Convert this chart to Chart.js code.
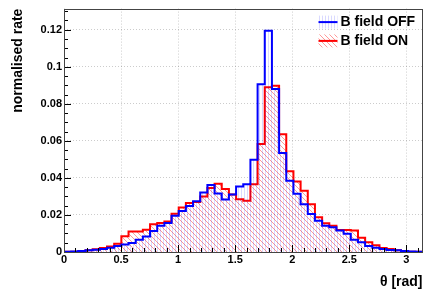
<!DOCTYPE html>
<html lang="en">
<head>
  <meta charset="UTF-8" />
  <title>theta distribution, B field on/off</title>
  <script src="https://cdn.jsdelivr.net/npm/chart.js"></script>
  <style>
    html, body { margin: 0; padding: 0; background: #fff; }
    #wrap { width: 431px; height: 296px; }
  </style>
</head>
<body>
  <div id="wrap"><canvas id="myChart"></canvas></div>

  <script>
    // histogram binning: 50 bins over [0, pi]
    const nBins = 50;
    const thetaMin = 0;
    const thetaMax = Math.PI;

    // normalised rate per bin
    const rateOff = [
      0.0002, 0.0003, 0.0005, 0.0009, 0.0012, 0.0016, 0.0023, 0.0033, 0.0041, 0.0048,
      0.0066, 0.0084, 0.0113, 0.0142, 0.0157, 0.0196, 0.0222, 0.0249, 0.0274, 0.0321,
      0.0362, 0.0316, 0.0284, 0.0310, 0.0354, 0.0366, 0.0498, 0.0906, 0.1195, 0.0880,
      0.0535, 0.0384, 0.0315, 0.0258, 0.0205, 0.0169, 0.0142, 0.0133, 0.0116, 0.0098,
      0.0066, 0.0053, 0.0032, 0.0023, 0.0016, 0.0011, 0.0009, 0.0005, 0.0003, 0.0002
    ];
    const rateOn = [
      0.0001, 0.0002, 0.0005, 0.0009, 0.0015, 0.0022, 0.0030, 0.0045, 0.0085, 0.0110,
      0.0110, 0.0120, 0.0150, 0.0157, 0.0165, 0.0206, 0.0240, 0.0265, 0.0270, 0.0300,
      0.0346, 0.0368, 0.0340, 0.0310, 0.0285, 0.0276, 0.0366, 0.0583, 0.0890, 0.0897,
      0.0636, 0.0436, 0.0380, 0.0330, 0.0258, 0.0187, 0.0155, 0.0142, 0.0119, 0.0119,
      0.0116, 0.0077, 0.0053, 0.0036, 0.0021, 0.0016, 0.0009, 0.0005, 0.0002, 0.0001
    ];

    const xTicks = [0, 0.5, 1, 1.5, 2, 2.5, 3];
    const yTicks = [0, 0.02, 0.04, 0.06, 0.08, 0.1, 0.12];
    const yMax = 0.1314;
    const legendLabels = ['B field OFF', 'B field ON'];

    const FONT = "'Liberation Sans', Arial, Helvetica, sans-serif";
    const binWidth = (thetaMax - thetaMin) / nBins;

    // step points at the bin edges, last value repeated at the right edge
    function toSteps(vals) {
      const pts = vals.map((v, i) => ({ x: thetaMin + i * binWidth, y: v }));
      pts.push({ x: thetaMax, y: vals[vals.length - 1] });
      return pts;
    }

    const ctx = document.getElementById('myChart').getContext('2d');

    // ROOT-like hatch fills
    function hatch(kind, color) {
      const s = kind === 'diag' ? 5 : 3;
      const c = document.createElement('canvas');
      c.width = s; c.height = s;
      const g = c.getContext('2d');
      g.strokeStyle = color;
      g.lineWidth = 1;
      g.beginPath();
      if (kind === 'diag') {
        g.moveTo(-1, -1); g.lineTo(s + 1, s + 1);
        g.moveTo(-1, s - 1); g.lineTo(1, s + 1);
        g.moveTo(s - 1, -1); g.lineTo(s + 1, 1);
      } else {
        g.moveTo(1.5, 0); g.lineTo(1.5, s);
      }
      g.stroke();
      return ctx.createPattern(c, 'repeat');
    }
    const blueHatch = hatch('vert', 'rgba(0,0,255,0.15)');
    const redHatch = hatch('diag', 'rgba(255,0,0,0.4)');

    // frame, inner ticks and legend drawn the ROOT way
    const rootStyle = {
      id: 'rootStyle',
      afterDraw(chart) {
        const { ctx, chartArea: a, scales: { x, y } } = chart;
        ctx.save();
        ctx.strokeStyle = '#000';
        ctx.lineWidth = 1;
        ctx.beginPath();
        for (let i = 0; i * 0.005 <= yMax; i++) {
          const py = Math.round(y.getPixelForValue(i * 0.005)) + 0.5;
          const len = i % 4 === 0 ? 7 : 4;
          ctx.moveTo(a.left, py); ctx.lineTo(a.left + len, py);
        }
        for (let i = 0; i * 0.1 <= thetaMax; i++) {
          const px = Math.round(x.getPixelForValue(i * 0.1)) + 0.5;
          const len = i % 5 === 0 ? 7 : 4;
          ctx.moveTo(px, a.bottom); ctx.lineTo(px, a.bottom - len);
        }
        ctx.stroke();

        ctx.strokeStyle = '#444';
        ctx.strokeRect(Math.round(a.left) + 0.5, Math.round(a.top) + 0.5,
          Math.round(a.right - a.left) - 1, Math.round(a.bottom - a.top));

        // legend
        const ds = chart.data.datasets;
        const boxL = a.right - 104, boxW = 19, boxH = 13;
        ctx.font = 'bold 14px ' + FONT;
        ctx.textBaseline = 'middle';
        legendLabels.forEach((lab, i) => {
          const cy = a.top + 13.5 + i * 18.8;
          ctx.fillStyle = ds[i].backgroundColor;
          ctx.fillRect(boxL, cy - boxH / 2, boxW, boxH);
          ctx.strokeStyle = ds[i].borderColor;
          ctx.lineWidth = 2;
          ctx.beginPath();
          ctx.moveTo(boxL, cy); ctx.lineTo(boxL + boxW, cy);
          ctx.stroke();
          ctx.fillStyle = '#000';
          ctx.fillText(lab, a.right - 82, cy);
        });
        ctx.restore();
      }
    };

    const chart = new Chart(ctx, {
      type: 'line',
      data: {
        datasets: [
          {
            label: legendLabels[0],
            data: toSteps(rateOff),
            stepped: 'before',
            borderColor: '#0000ff',
            backgroundColor: blueHatch,
            borderWidth: 2,
            pointRadius: 0,
            fill: 'origin'
          },
          {
            label: legendLabels[1],
            data: toSteps(rateOn),
            stepped: 'before',
            borderColor: '#ff0000',
            backgroundColor: redHatch,
            borderWidth: 2,
            pointRadius: 0,
            fill: 'origin'
          }
        ]
      },
      options: {
        responsive: true,
        maintainAspectRatio: false,
        animation: false,
        layout: { padding: { left: 0, right: 8.5, top: 6, bottom: 0 } },
        plugins: {
          legend: { display: false },
          tooltip: { enabled: false }
        },
        scales: {
          x: {
            type: 'linear',
            min: thetaMin,
            max: thetaMax,
            afterBuildTicks: s => { s.ticks = xTicks.map(v => ({ value: v })); },
            afterFit: s => { s.height = 44; },
            ticks: {
              callback: v => String(v),
              color: '#000',
              font: { family: FONT, size: 11, weight: 'bold' },
              padding: 1,
              maxRotation: 0,
              autoSkip: false
            },
            grid: { color: 'rgba(0,0,0,0.2)', drawTicks: false, lineWidth: 1 },
            border: { display: false, dash: [1, 2] },
            title: {
              display: true,
              text: 'θ [rad]',
              align: 'end',
              color: '#000',
              font: { family: FONT, size: 14, weight: 'bold' },
              padding: { top: 0, bottom: 5 }
            }
          },
          y: {
            min: 0,
            max: yMax,
            afterBuildTicks: s => { s.ticks = yTicks.map(v => ({ value: v })); },
            afterFit: s => { s.width = 64; },
            ticks: {
              callback: v => String(v),
              color: '#000',
              font: { family: FONT, size: 11, weight: 'bold' },
              padding: 2,
              autoSkip: false
            },
            grid: { color: 'rgba(0,0,0,0.2)', drawTicks: false, lineWidth: 1 },
            border: { display: false, dash: [1, 2] },
            title: {
              display: true,
              text: 'normalised rate',
              align: 'end',
              color: '#000',
              font: { family: FONT, size: 14, weight: 'bold' },
              padding: { top: 10, bottom: 0 }
            }
          }
        }
      },
      plugins: [rootStyle]
    });
  </script>
</body>
</html>
